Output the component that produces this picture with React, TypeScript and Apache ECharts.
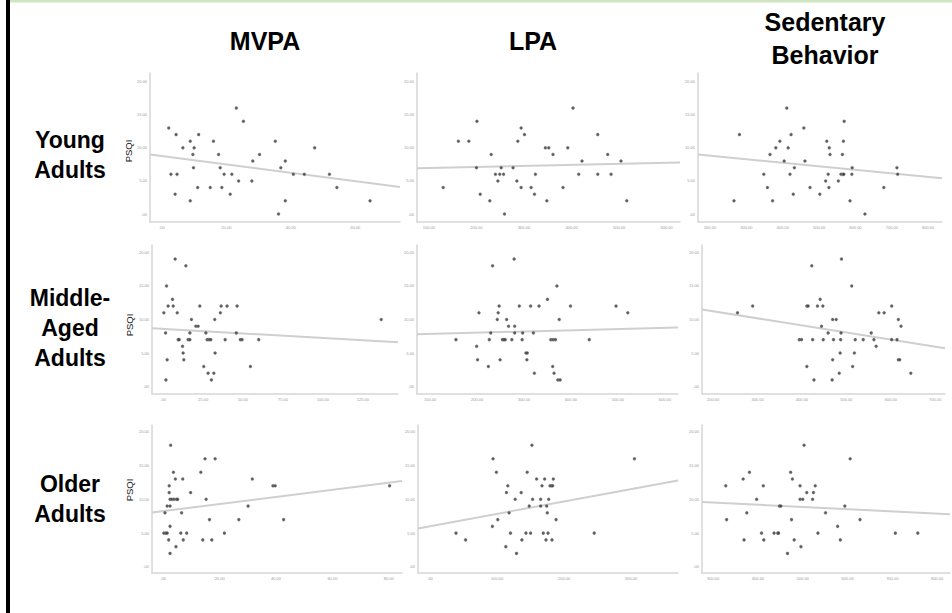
import React, { useEffect, useRef } from "react";
import * as echarts from "echarts";

const FONT = '"Liberation Sans", Arial, Helvetica, sans-serif';

// Column / row labels
const columnTitles = ["MVPA", "LPA", "Sedentary\nBehavior"];
const rowTitles = ["Young\nAdults", "Middle-\nAged\nAdults", "Older\nAdults"];
const yAxisTitle = "PSQI";

// Tick values
const psqiTicks = [0, 5, 10, 15, 20];
const youngMVPATicks = [0, 20, 40, 60];
const youngLPATicks = [100, 200, 300, 400, 500, 600];
const youngSBTicks = [200, 300, 400, 500, 600, 700, 800];
const middleMVPATicks = [0, 25, 50, 75, 100, 125];
const middleLPATicks = [100, 200, 300, 400, 500, 600];
const middleSBTicks = [200, 300, 400, 500, 600, 700];
const olderMVPATicks = [0, 20, 40, 60, 80];
const olderLPATicks = [0, 100, 200, 300];
const olderSBTicks = [300, 400, 500, 600, 700, 800];

// Points: [activity minutes, PSQI]
const youngMVPA = [[2.1,13],[4.4,12],[2.8,6],[4.7,6],[4.1,3],[6.5,10],[8.8,11],[10.0,10],[9.6,9],[11.4,12],[9.8,7],[8.8,2],[11.1,4],[15.0,4],[16.0,11],[17.6,9],[18.1,7],[19.3,6],[18.6,4],[21.2,3],[21.7,6],[23.1,16],[23.8,5],[25.3,14],[28.2,8],[27.9,5],[30.3,9],[35.2,11],[36.9,7],[38.3,8],[36.2,0],[38.3,2],[40.8,6],[44.2,6],[47.4,10],[52.0,6],[54.3,4],[64.6,2]];
const youngLPA = [[130,4],[162,11],[184,11],[201,14],[200,7],[208,3],[228,2],[231,9],[240,6],[245,5],[249,6],[252,7],[257,6],[259,0],[277,7],[285,5],[287,11],[294,13],[294,4],[301,12],[315,4],[322,3],[324,6],[345,10],[352,10],[348,2],[361,9],[382,4],[392,10],[403,16],[415,6],[422,8],[455,12],[455,6],[476,9],[483,6],[504,8],[516,2]];
const youngSB = [[266,2],[281,12],[348,6],[358,4],[365,9],[372,2],[381,10],[392,11],[404,8],[411,16],[415,10],[420,6],[423,12],[429,3],[432,7],[458,13],[461,8],[475,4],[502,3],[518,5],[521,11],[525,6],[527,4],[528,10],[530,9],[553,5],[560,6],[564,9],[566,6],[567,11],[568,6],[569,14],[585,2],[591,7],[590,6],[626,0],[678,4],[714,7],[716,6]];
const middleMVPA = [[1.7,1],[2.5,4],[0.4,11],[1.5,8],[2.1,15],[3.1,12],[5.8,13],[6.3,12],[7.5,19],[8.8,11],[9.4,7],[10.0,7],[12.1,6],[12.5,5],[12.9,4],[14.2,18],[15.6,7],[16.7,7],[16.7,8],[17.7,10],[20.4,9],[21.9,9],[22.9,12],[25.4,3],[26.7,8],[27.5,7],[28.1,2],[28.8,7],[29.8,7],[30.2,1],[31.7,2],[32.3,10],[32.5,5],[35.8,11],[36.3,12],[38.8,7],[40.0,12],[45.8,8],[46.3,12],[48.3,7],[49.4,7],[54.6,3],[59.8,7],[136.5,10]];
const middleLPA = [[155,7],[199,6],[201,4],[204,11],[224,3],[226,7],[229,8],[233,18],[243,10],[245,11],[247,12],[249,4],[254,7],[257,7],[260,7],[263,10],[267,9],[274,7],[279,19],[280,9],[280,8],[290,12],[296,7],[297,8],[304,5],[307,5],[306,4],[314,12],[320,8],[322,2],[332,12],[350,13],[357,7],[361,3],[362,7],[364,2],[367,7],[370,15],[372,1],[377,1],[375,10],[399,12],[439,7],[496,12],[521,11]];
const middleSB = [[255,11],[289,12],[394,7],[399,7],[411,3],[411,12],[414,12],[422,18],[424,7],[427,1],[435,12],[441,13],[447,12],[444,9],[448,7],[459,8],[469,10],[469,4],[468,1],[471,7],[477,10],[484,2],[486,5],[487,7],[488,8],[489,19],[512,15],[514,3],[520,7],[518,5],[538,7],[556,8],[562,7],[567,6],[573,11],[585,11],[602,7],[602,12],[614,7],[617,10],[617,4],[620,4],[623,9],[645,2]];
const olderMVPA = [[2.6,18],[2.1,12],[2.1,11],[1.4,9],[2.4,9],[0.6,8],[0.2,5],[0.9,5],[1.4,5],[1.9,4],[2.4,6],[2.4,2],[2.4,10],[3.0,10],[3.6,14],[3.8,10],[4.3,13],[4.5,3],[4.7,10],[5.1,10],[6.2,5],[6.5,8],[6.9,13],[7.1,4],[8.3,5],[9.7,11],[13.3,14],[14.0,4],[14.8,16],[15.2,10],[16.4,7],[17.2,4],[18.4,16],[21.7,5],[26.8,7],[30.1,9],[31.6,13],[38.9,12],[39.7,12],[42.7,7],[80.3,12]];
const olderLPA = [[38.7,5],[53,4],[93,6],[94,16],[99,14],[101,7],[113,3],[114,11],[116,12],[118,8],[120,5],[127,10],[129,2],[136,11],[137,4],[143,5],[145,14],[148,9],[150,5],[152,18],[153,10],[159,13],[165,10],[165,9],[167,12],[169,5],[171,13],[173,4],[174,9],[175,8],[176,5],[177,10],[179,12],[181,12],[182,4],[183,12],[184,13],[188,7],[245,5],[305,16]];
const olderSB = [[328,12],[330,7],[367,13],[369,4],[375,8],[381,14],[397,10],[408,5],[412,12],[413,4],[436,5],[444,5],[448,9],[451,9],[446,5],[466,2],[473,14],[475,7],[477,13],[481,4],[494,12],[496,3],[494,10],[500,10],[503,18],[509,11],[522,10],[524,11],[528,12],[534,5],[551,8],[578,6],[584,4],[594,9],[606,16],[628,7],[707,5],[757,5]];

// Fit lines (end points)
const youngMVPAFit = [[-3.7, 9.0], [73.9, 4.1]];
const youngLPAFit = [[75, 6.9], [628, 7.8]];
const youngSBFit = [[167, 9.0], [838, 5.4]];
const middleMVPAFit = [[-7, 8.7], [147, 6.6]];
const middleLPAFit = [[72, 7.8], [628, 8.8]];
const middleSBFit = [[175, 11.5], [722, 5.7]];
const olderMVPAFit = [[-4, 8.05], [84.7, 12.7]];
const olderLPAFit = [[-18, 5.7], [370, 12.8]];
const olderSBFit = [[275, 9.6], [829, 7.8]];

const panels = [
  { data: youngMVPA, fit: youngMVPAFit, xTicks: youngMVPATicks, xMin: -3.7, xMax: 73.9, yMin: -1.2, yMax: 21.3, left: 150, top: 73, width: 250, height: 149 },
  { data: youngLPA, fit: youngLPAFit, xTicks: youngLPATicks, xMin: 75, xMax: 628, yMin: -1.2, yMax: 21.3, left: 417, top: 73, width: 263, height: 149 },
  { data: youngSB, fit: youngSBFit, xTicks: youngSBTicks, xMin: 167, xMax: 838, yMin: -1.2, yMax: 21.3, left: 698, top: 73, width: 244, height: 149 },
  { data: middleMVPA, fit: middleMVPAFit, xTicks: middleMVPATicks, xMin: -7, xMax: 147, yMin: -1.1, yMax: 21.1, left: 152, top: 245, width: 246, height: 149 },
  { data: middleLPA, fit: middleLPAFit, xTicks: middleLPATicks, xMin: 72, xMax: 628, yMin: -1.1, yMax: 21.1, left: 417, top: 245, width: 261, height: 149 },
  { data: middleSB, fit: middleSBFit, xTicks: middleSBTicks, xMin: 175, xMax: 722, yMin: -1.1, yMax: 21.1, left: 702, top: 245, width: 243, height: 149 },
  { data: olderMVPA, fit: olderMVPAFit, xTicks: olderMVPATicks, xMin: -4, xMax: 84.7, yMin: -0.9, yMax: 21.0, left: 152, top: 425, width: 250, height: 148 },
  { data: olderLPA, fit: olderLPAFit, xTicks: olderLPATicks, xMin: -18, xMax: 370, yMin: -0.9, yMax: 21.0, left: 418, top: 425, width: 260, height: 148 },
  { data: olderSB, fit: olderSBFit, xTicks: olderSBTicks, xMin: 275, xMax: 829, yMin: -0.9, yMax: 21.0, left: 702, top: 425, width: 248, height: 148 },
];

const fmt = (v: number) => (v === 0 ? ".00" : v.toFixed(2));

export default function App() {
  const ref = useRef<HTMLDivElement>(null);
  useEffect(() => {
    if (!ref.current) return;
    const chart = echarts.init(ref.current, null, { renderer: "svg" });
    const axisLine = { show: true, onZero: false, lineStyle: { color: "#d6d6d6", width: 1.5 } };
    const labelStyle = { fontSize: 4, color: "#9a9a9a", fontFamily: FONT, margin: 3 };

    const grid = panels.map((p) => ({ left: p.left, top: p.top, width: p.width, height: p.height, outerBoundsMode: "none" }));
    const xAxis = panels.map((p, i) => ({
      type: "value", gridIndex: i, min: p.xMin, max: p.xMax,
      axisLine, axisTick: { show: false }, splitLine: { show: false },
      axisLabel: { ...labelStyle, customValues: p.xTicks, formatter: fmt },
    }));
    const yAxis = panels.map((p, i) => ({
      type: "value", gridIndex: i, min: p.yMin, max: p.yMax,
      axisLine, axisTick: { show: false }, splitLine: { show: false },
      axisLabel: { ...labelStyle, customValues: psqiTicks, formatter: fmt },
    }));
    const series: any[] = [];
    panels.forEach((p, i) => {
      series.push({
        type: "line", xAxisIndex: i, yAxisIndex: i, data: p.fit, symbol: "none",
        lineStyle: { color: "#cfcfcf", width: 2 }, z: 1, silent: true,
      });
      series.push({
        type: "scatter", xAxisIndex: i, yAxisIndex: i, data: p.data, symbol: "circle", symbolSize: 3,
        itemStyle: { color: "#333", borderColor: "#8a8a8a", borderWidth: 0.5 }, z: 2,
      });
    });

    const titleCenters = [265, 533, 825];
    const titleYs = [41, 41, 38];
    const rowCenters = [155, 328, 499];
    const psqiPos = [[128, 151], [129, 325], [129, 490]];

    const graphic: any[] = [
      { type: "rect", shape: { x: 6, y: 0, width: 4, height: 613 }, style: { fill: "#000" } },
      { type: "rect", shape: { x: 10, y: 0, width: 942, height: 2.5 }, style: { fill: "#cfe5bf" } },
    ];
    columnTitles.forEach((t, i) => {
      graphic.push({
        type: "text", x: titleCenters[i], y: titleYs[i],
        style: { text: t, x: 0, y: 0, fontSize: 25, fontWeight: "bold", fontFamily: FONT, fill: "#000",
          lineHeight: 33, align: "center", verticalAlign: "middle", textAlign: "center", textVerticalAlign: "middle" },
      });
    });
    rowTitles.forEach((t, i) => {
      graphic.push({
        type: "text", x: 70, y: rowCenters[i],
        style: { text: t, x: 0, y: 0, fontSize: 23, fontWeight: "bold", fontFamily: FONT, fill: "#000",
          lineHeight: 30, align: "center", verticalAlign: "middle", textAlign: "center", textVerticalAlign: "middle" },
      });
      graphic.push({
        type: "text", x: psqiPos[i][0], y: psqiPos[i][1], rotation: Math.PI / 2,
        style: { text: yAxisTitle, x: 0, y: 0, fontSize: 9.5, fontFamily: FONT, fill: "#222",
          align: "center", verticalAlign: "middle", textAlign: "center", textVerticalAlign: "middle" },
      });
    });

    chart.setOption({
      animation: false,
      backgroundColor: "#fff",
      grid, xAxis, yAxis, series, graphic,
    });
    return () => chart.dispose();
  }, []);
  return <div ref={ref} style={{ position: "fixed", left: 0, top: 0, width: 952, height: 613, background: "#fff" }} />;
}
